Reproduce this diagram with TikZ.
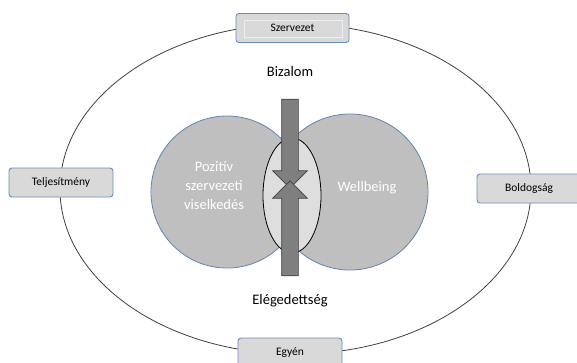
\documentclass[tikz,border=0pt]{standalone}
\usepackage{fontspec}
\setmainfont{Carlito}
\usetikzlibrary{shapes.arrows, positioning}
\definecolor{boxfill}{RGB}{217,217,217}
\definecolor{boxline}{RGB}{104,142,194}
\definecolor{circfill}{RGB}{191,191,191}
\definecolor{circline}{RGB}{96,132,180}
\definecolor{lensfill}{RGB}{222,222,222}
\definecolor{arrowfill}{RGB}{127,127,127}
\tikzset{
    level/.style={
        rectangle, rounded corners=3pt,
        draw=boxline, fill=boxfill, line width=0.9pt,
        minimum width=104pt, minimum height=29pt,
        font=\fontsize{11.5}{13}\selectfont, align=center
    },
    sphere/.style={
        circle, draw=circline, fill=circfill, line width=0.8pt
    },
    inside/.style={
        font=\fontsize{14.5}{19}\selectfont, text=white, align=center
    },
    caption/.style={
        font=\fontsize{14.5}{17}\selectfont, align=center
    },
    blockarrow/.style={
        single arrow, draw=black!75, fill=arrowfill, line width=0.7pt,
        inner xsep=0pt, inner ysep=8pt,
        single arrow head extend=9pt, single arrow head indent=0pt
    },
    orbit/.style={draw=black!75, line width=0.8pt}
}

\begin{document}
\begin{tikzpicture}[x=1pt, y=-1pt]
    \useasboundingbox (0,0) rectangle (577,362);

    % outer frame
    \draw[orbit] (295.5,189) ellipse [x radius=235.5pt, y radius=165pt];

    \node[level, minimum width=113pt] (sz) at (292.5,28) {Szervezet};
    \draw[draw=white!55!boxfill, line width=0.6pt]
        ([xshift=9pt, yshift=-7pt]sz.north west) rectangle ([xshift=-7pt, yshift=6pt]sz.south east);
    \node[level] (tj) at (61,182.5) {Teljesítmény};
    \node[level] (bo) at (529,188.5) {Boldogság};
    \node[level] (eg) at (290,352.5) {Egyén};

    % the two fields and their overlap
    \node[sphere, minimum size=152pt] (poz) at (227,192) {};
    \node[sphere, minimum size=156pt] (wb) at (350,192) {};
    \draw[fill=lensfill, draw=black, line width=0.8pt] (292,195.5) ellipse [x radius=29pt, y radius=57.5pt];
    \coordinate (lens) at (292,195.5);

    \node[inside] (pozt) at (214,186) {Pozitív\\szervezeti\\viselkedés};
    \node[inside] (wbt) at (367,188) {Wellbeing};

    % opposing arrows
    \node[blockarrow, rotate=-90, minimum height=89pt] (down) at (290,139.5) {};
    \node[blockarrow, rotate=90, minimum height=95pt] (up) at (290,232.5) {};

    \node[caption] (biz) at (290,72) {Bizalom};
    \node[caption] (ele) at (290,301) {Elégedettség};
\end{tikzpicture}
\end{document}
